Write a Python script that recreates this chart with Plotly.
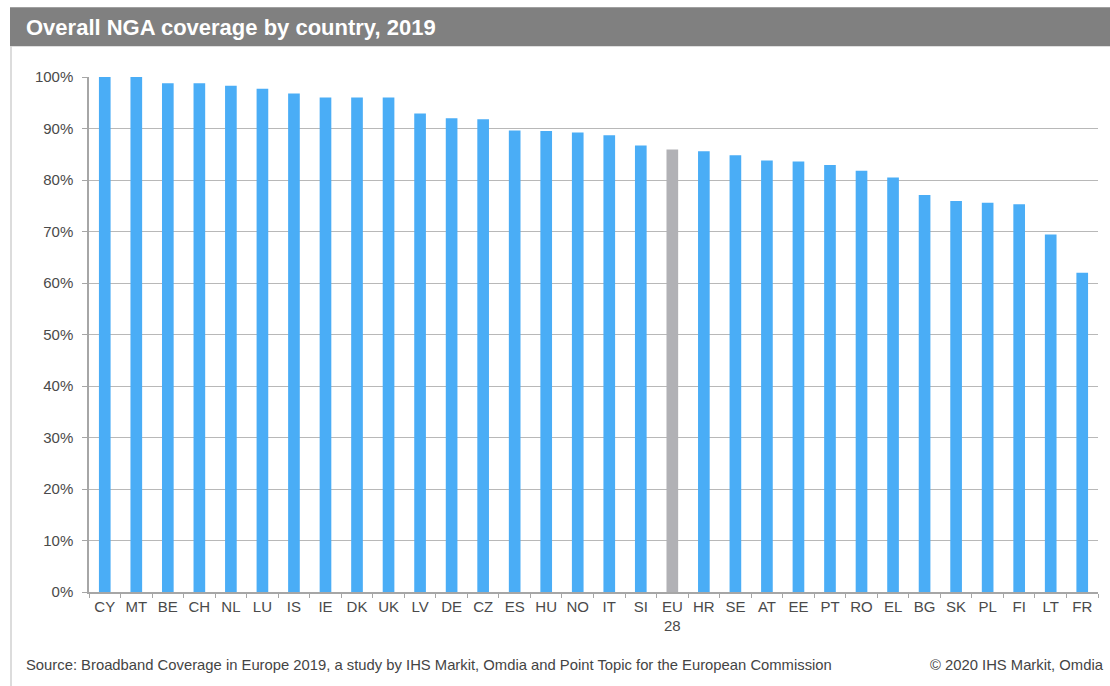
import plotly.graph_objects as go

countries = ["CY", "MT", "BE", "CH", "NL", "LU", "IS", "IE", "DK", "UK", "LV", "DE", "CZ", "ES", "HU", "NO",
             "IT", "SI", "EU<br>28", "HR", "SE", "AT", "EE", "PT", "RO", "EL", "BG", "SK", "PL", "FI", "LT", "FR"]
coverage = [1.000, 1.000, 0.988, 0.988, 0.983, 0.977, 0.968, 0.960, 0.960, 0.960, 0.929, 0.920, 0.918,
            0.896, 0.895, 0.892, 0.887, 0.867, 0.859, 0.856, 0.848, 0.838, 0.836, 0.829, 0.818, 0.805,
            0.771, 0.759, 0.756, 0.753, 0.694, 0.620]
highlight = "EU<br>28"

title_text = "Overall NGA coverage by country, 2019"
source_text = "Source: Broadband Coverage in Europe 2019, a study by IHS Markit, Omdia and Point Topic for the European Commission"
copyright_text = "© 2020 IHS Markit, Omdia"

BLUE = "#4aadf6"
GREY = "#b1b1b5"
colors = [GREY if c == highlight else BLUE for c in countries]

W, H = 1110, 686
L, R, T, B = 89, 12, 76.7, 94.3
pw, ph = W - L - R, H - T - B

def px(x):
    return (x - L) / pw

def py(y):
    return (H - B - y) / ph

fig = go.Figure(go.Bar(x=countries, y=coverage, marker=dict(color=colors, line=dict(width=0)),
                       hoverinfo="x+y"))

font = "Liberation Sans, Arial, sans-serif"
fig.update_layout(
    width=W, height=H,
    margin=dict(l=L, r=R, t=T, b=B),
    paper_bgcolor="white", plot_bgcolor="white",
    bargap=0.63,
    showlegend=False,
    font=dict(family=font, size=15, color="#4a4a4a"),
    xaxis=dict(showline=True, linecolor="#a6a6a6", linewidth=1.5, ticks="outside", tickson="boundaries",
               ticklen=4, tickcolor="#a6a6a6", showgrid=False, tickfont=dict(size=15, color="#4a4a4a"),
               fixedrange=True),
    yaxis=dict(range=[0, 1.0], dtick=0.1, tickformat=".0%", showline=True, linecolor="#a6a6a6", linewidth=1.5,
               ticks="outside", ticklen=5, tickcolor="#a6a6a6", showgrid=True, gridcolor="#b8b8b8",
               gridwidth=1.2, zeroline=False, tickfont=dict(size=15, color="#4a4a4a"), fixedrange=True,
               ticklabelstandoff=6),
    shapes=[
        dict(type="rect", xref="paper", yref="paper", x0=px(10), x1=px(1110), y0=py(46), y1=py(7),
             fillcolor="#808080", line=dict(width=0), layer="above"),
        dict(type="line", xref="paper", yref="paper", x0=px(11), x1=px(11), y0=py(46), y1=py(686),
             line=dict(color="#d0d0d0", width=1.5)),
    ],
    annotations=[
        dict(text="<b>" + title_text + "</b>", xref="paper", yref="paper", x=px(24), y=py(27),
             xanchor="left", yanchor="middle", showarrow=False,
             font=dict(family=font, size=22, color="white")),
        dict(text=source_text, xref="paper", yref="paper", x=px(24), y=py(665),
             xanchor="left", yanchor="middle", showarrow=False,
             font=dict(family=font, size=14.8, color="#444444")),
        dict(text=copyright_text, xref="paper", yref="paper", x=px(1106), y=py(665),
             xanchor="right", yanchor="middle", showarrow=False,
             font=dict(family=font, size=14.8, color="#444444")),
    ],
)

fig.write_html("out.html")
